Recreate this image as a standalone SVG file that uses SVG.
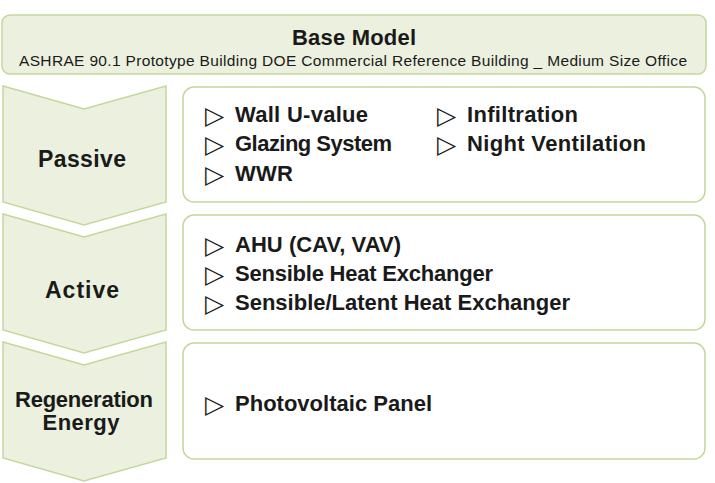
<svg xmlns="http://www.w3.org/2000/svg" width="715" height="483" viewBox="0 0 715 483">
<style>
.shape{fill:#ebf1de;stroke:#c4d79b;stroke-width:1.5}
.box{fill:#ffffff;stroke:#c4d79b;stroke-width:1.5}
.t{font-family:"Liberation Sans",Arial,sans-serif;font-weight:bold;fill:#1a1a1a}
.item{font-size:22px}
.tri{font-family:"DejaVu Sans",sans-serif;font-size:25px;fill:#1a1a1a}
.lab{font-size:23px;text-anchor:middle}
.sub{font-family:"Liberation Sans",Arial,sans-serif;font-size:15.5px;fill:#1a1a1a}
</style>
<rect width="715" height="483" fill="#ffffff"/>
<g id="base">
<rect class="shape" x="2" y="15" width="704" height="59" rx="8"/>
<text class="t" x="354" y="45" font-size="22" text-anchor="middle" textLength="124">Base Model</text>
<text class="sub" x="19" y="66" textLength="668">ASHRAE 90.1 Prototype Building DOE Commercial Reference Building _ Medium Size Office</text>
</g>
<g id="passive">
<polygon class="shape" points="3,86 84,109 166,86 166,202 84,225 3,202"/>
<text class="t lab" x="82" y="167" textLength="88">Passive</text>
</g>
<g id="passive-items">
<rect class="box" x="183" y="87" width="522" height="115" rx="11"/>
<text class="tri" x="205" y="124">▷</text>
<text class="t item" x="235" y="122" textLength="133">Wall U-value</text>
<text class="tri" x="205" y="153">▷</text>
<text class="t item" x="235" y="151" textLength="157">Glazing System</text>
<text class="tri" x="205" y="183">▷</text>
<text class="t item" x="235" y="181" textLength="58">WWR</text>
<text class="tri" x="437" y="124">▷</text>
<text class="t item" x="467" y="122" textLength="111">Infiltration</text>
<text class="tri" x="437" y="153">▷</text>
<text class="t item" x="467" y="151" textLength="179">Night Ventilation</text>
</g>
<g id="active">
<polygon class="shape" points="3,214 84,237 166,214 166,330 84,353 3,330"/>
<text class="t lab" x="82" y="298" textLength="74">Active</text>
</g>
<g id="active-items">
<rect class="box" x="183" y="215" width="522" height="115" rx="11"/>
<text class="tri" x="205" y="254">▷</text>
<text class="t item" x="235" y="252" textLength="166">AHU (CAV, VAV)</text>
<text class="tri" x="205" y="283">▷</text>
<text class="t item" x="235" y="281" textLength="258">Sensible Heat Exchanger</text>
<text class="tri" x="205" y="312">▷</text>
<text class="t item" x="235" y="310" textLength="335">Sensible/Latent Heat Exchanger</text>
</g>
<g id="regeneration">
<polygon class="shape" points="3,342 84,365 166,342 166,458 84,481 3,458"/>
<text class="t" x="84" y="407" font-size="22" text-anchor="middle" textLength="138">Regeneration</text>
<text class="t" x="81" y="430" font-size="22" text-anchor="middle" textLength="77">Energy</text>
</g>
<g id="regeneration-items">
<rect class="box" x="183" y="343" width="522" height="116" rx="11"/>
<text class="tri" x="205" y="413">▷</text>
<text class="t item" x="235" y="411" textLength="197">Photovoltaic Panel</text>
</g>
<g id="connectors"></g>
</svg>
